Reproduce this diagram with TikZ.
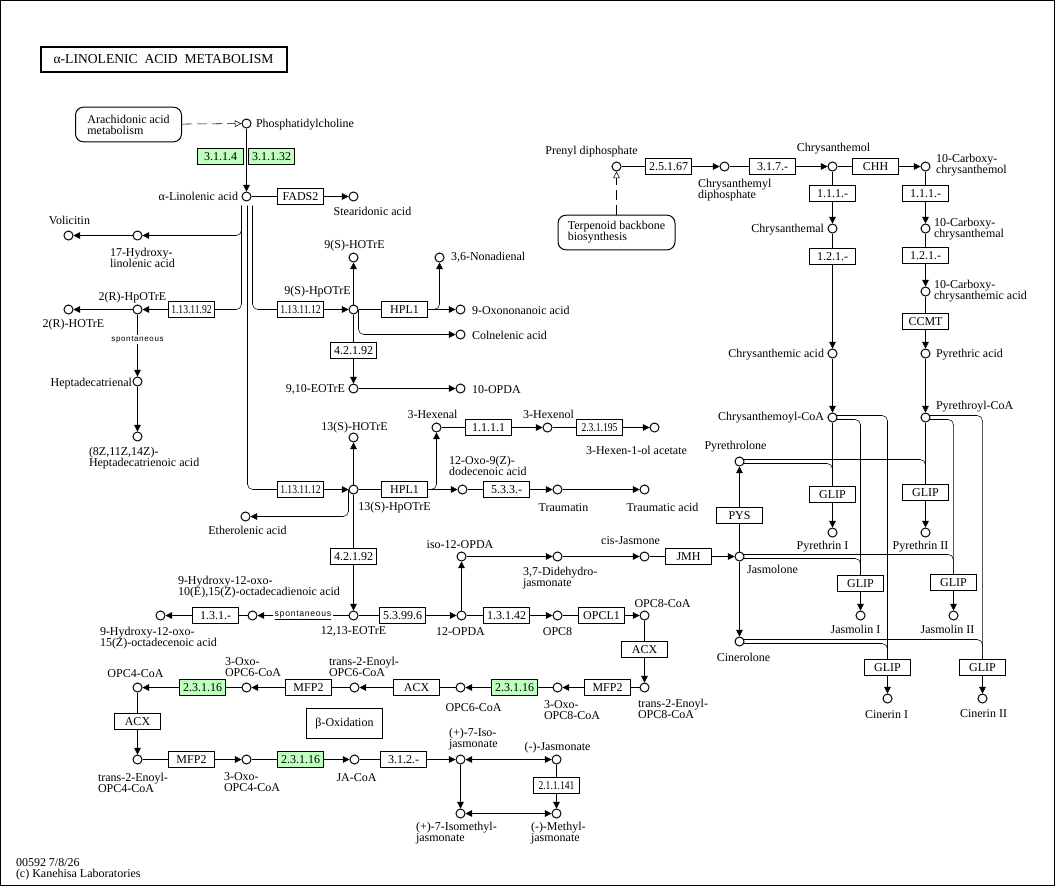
\documentclass[tikz,border=0pt]{standalone}
\usepackage{fontspec}
\setmainfont{Liberation Serif}
\newfontfamily\spfont[LetterSpace=8]{Liberation Sans}
\usepackage{graphicx}
\usetikzlibrary{arrows.meta,calc,backgrounds}
\definecolor{kgreen}{RGB}{191,255,191}
\newcommand\ecsq[1]{\scalebox{0.8}[1]{#1}}
\begin{document}
\begin{tikzpicture}[x=0.75pt,y=-0.75pt, line width=0.75pt,
  every node/.style={font=\fontsize{9}{8.2}\selectfont, inner sep=0pt},
  cpd/.style={circle, draw, fill=white, minimum size=6.75pt},
  ec/.style={draw, fill=white, minimum width=34.5pt, minimum height=12pt},
  gec/.style={ec, fill=kgreen},
  lbl/.style={align=left},
  arr/.style={-{Triangle[length=5pt,width=5pt]}},
  darr/.style={{Triangle[length=5pt,width=5pt]}-{Triangle[length=5pt,width=5pt]}},
  mapbox/.style={draw, rounded corners=6pt, minimum width=79.5pt, minimum height=26pt, align=left},
  oarr/.style={dash pattern=on 7.5pt off 3.75pt, -{Triangle[open,length=5pt,width=5pt]}},
  rc/.style={rounded corners=4pt},
  spont/.style={font=\spfont\fontsize{6}{6}\selectfont, fill=white, inner sep=1pt}]
\useasboundingbox (-0.5,-0.5) rectangle (1054.5,885.5);

% title and maps
\node[draw, line width=1.5pt, minimum width=184.5pt, minimum height=18.75pt, font=\fontsize{10.2}{12}\selectfont] (title) at (163,58.5) {α-LINOLENIC~~ACID~~METABOLISM};
\node[mapbox] (aam) at (128,124) {Arachidonic acid\\metabolism};
\node[mapbox, minimum width=87.75pt] (tbb) at (616,232) {Terpenoid backbone\\biosynthesis};

% top left
\node[cpd] (pc) at (246,123) {};
\node[anchor=west] (tpc) at (255,124) {Phosphatidylcholine};
\node[gec] (e3114) at (220,156) {3.1.1.4};
\node[gec] (e31132) at (271,156) {3.1.1.32};
\node[cpd] (aln) at (246,196) {};
\node[anchor=east] (taln) at (238,196) {α-Linolenic acid};
\node[ec] (fads2) at (300,196) {FADS2};
\node[cpd] (sda) at (353,196) {};
\node (tsda) at (372,211) {Stearidonic acid};
\node[cpd] (hla) at (137,235) {};
\node[lbl, anchor=west] (thla) at (109,257) {17-Hydroxy-\\linolenic acid};
\node[cpd] (vol) at (68,235) {};
\node (tvol) at (69,220) {Volicitin};

\node[ec] (e92) at (191,309) {\ecsq{1.13.11.92}};
\node[cpd] (hp2) at (137,309) {};
\node (thp2) at (132,297) {2(R)-HpOTrE};
\node[cpd] (ho2) at (68,309) {};
\node (tho2) at (73,324) {2(R)-HOTrE};
\node[cpd] (hpt) at (137,381) {};
\node[anchor=east] (thpt) at (132,383) {Heptadecatrienal};
\node[cpd] (hta) at (137,436) {};
\node[lbl, anchor=west] (thta) at (88,457.5) {(8Z,11Z,14Z)-\\Heptadecatrienoic acid};

\node[ec] (e12a) at (300,309) {\ecsq{1.13.11.12}};
\node[cpd] (hp9) at (353,309) {};
\node (thp9) at (317,291) {9(S)-HpOTrE};
\node[cpd] (ho9) at (353,257) {};
\node (tho9) at (354,245) {9(S)-HOTrE};
\node[ec] (hpl1a) at (404,309) {HPL1};
\node[cpd] (oxo) at (460,309) {};
\node[anchor=west] (toxo) at (471,310) {9-Oxononanoic acid};
\node[cpd] (non) at (439,257) {};
\node[anchor=west] (tnon) at (450,257) {3,6-Nonadienal};
\node[cpd] (col) at (460,334) {};
\node[anchor=west] (tcol) at (471,335) {Colnelenic acid};
\node[ec] (e4292a) at (353,350) {4.2.1.92};
\node[cpd] (eo9) at (353,388) {};
\node[anchor=east] (teo9) at (345,389) {9,10-EOTrE};
\node[cpd] (op10) at (460,388) {};
\node[anchor=west] (top10) at (471,389) {10-OPDA};

\node[ec] (e12b) at (300,489) {\ecsq{1.13.11.12}};
\node[cpd] (hp13) at (353,489) {};
\node (thp13) at (394,507) {13(S)-HpOTrE};
\node[cpd] (ho13) at (353,437) {};
\node (tho13) at (354,427) {13(S)-HOTrE};
\node[ec] (hpl1b) at (404,489) {HPL1};
\node[cpd] (odd) at (462,489) {};
\node[lbl, anchor=west] (todd) at (448,465) {12-Oxo-9(Z)-\\dodecenoic acid};
\node[cpd] (hex) at (436,427) {};
\node (thex) at (432,414) {3-Hexenal};
\node[ec] (e1111) at (488,427) {1.1.1.1};
\node[cpd] (hxl) at (547,427) {};
\node (thxl) at (548,414) {3-Hexenol};
\node[ec] (e231195) at (599,427) {\ecsq{2.3.1.195}};
\node[cpd] (hxa) at (654,427) {};
\node (thxa) at (636,450) {3-Hexen-1-ol acetate};
\node[ec] (e533) at (506,489) {5.3.3.-};
\node[cpd] (trn) at (557,489) {};
\node (ttrn) at (563,507) {Traumatin};
\node[cpd] (tra) at (644,489) {};
\node (ttra) at (662,507) {Traumatic acid};
\node[cpd] (eth) at (245,516) {};
\node (teth) at (247,530) {Etherolenic acid};

\node[ec] (e4292b) at (353,556) {4.2.1.92};
\node[cpd] (eo13) at (353,615) {};
\node (teo13) at (353,631) {12,13-EOTrE};
\node[cpd] (hod) at (252,615) {};
\node[lbl, anchor=west] (thod) at (177,587) {9-Hydroxy-12-oxo-\\10(E),15(Z)-octadecadienoic acid};
\node[ec] (e131) at (215,615) {1.3.1.-};
\node[cpd] (hoe) at (160,615) {};
\node[lbl, anchor=west] (thoe) at (99,637.5) {9-Hydroxy-12-oxo-\\15(Z)-octadecenoic acid};
\node[ec] (e53996) at (402,615) {5.3.99.6};
\node[cpd] (opda) at (461,615) {};
\node (topda) at (460,631) {12-OPDA};
\node[cpd] (iso) at (461,556) {};
\node (tiso) at (459.5,544) {iso-12-OPDA};
\node[cpd] (ddj) at (557,556) {};
\node[lbl, anchor=west] (tddj) at (522,577.5) {3,7-Didehydro-\\jasmonate};
\node[cpd] (cjm) at (644,556) {};
\node (tcjm) at (630,540) {cis-Jasmone};
\node[ec] (jmh) at (688,556) {JMH};
\node[cpd] (jol) at (739,556) {};
\node (tjol) at (772,569) {Jasmolone};
\node[ec] (e13142) at (506,615) {1.3.1.42};
\node[cpd] (opc8) at (557,615) {};
\node (topc8) at (557,631) {OPC8};
\node[ec] (opcl1) at (601,615) {OPCL1};
\node[cpd] (o8c) at (644,615) {};
\node (to8c) at (662,603) {OPC8-CoA};
\node[ec] (acx8) at (644,649) {ACX};
\node[cpd] (t8) at (644,687) {};
\node[lbl, anchor=west] (tt8) at (637,708.5) {trans-2-Enoyl-\\OPC8-CoA};
\node[ec] (mfp2a) at (607,687) {MFP2};
\node[cpd] (o8) at (557,687) {};
\node[lbl, anchor=west] (to8) at (543,709.5) {3-Oxo-\\OPC8-CoA};
\node[gec] (g8) at (514,687) {2.3.1.16};
\node[cpd] (opc6) at (460,687) {};
\node (topc6) at (473,707) {OPC6-CoA};
\node[ec] (acx6) at (416,687) {ACX};
\node[cpd] (t6) at (354,687) {};
\node[lbl, anchor=west] (tt6) at (328,666.5) {trans-2-Enoyl-\\OPC6-CoA};
\node[ec] (mfp2b) at (308,687) {MFP2};
\node[cpd] (o6) at (246,687) {};
\node[lbl, anchor=west] (to6) at (224,666.5) {3-Oxo-\\OPC6-CoA};
\node[gec] (g6) at (202,687) {2.3.1.16};
\node[cpd] (opc4) at (137,687) {};
\node (topc4) at (135,673) {OPC4-CoA};
\node[ec] (acx4) at (137,721) {ACX};
\node[cpd] (t4) at (137,759) {};
\node[lbl, anchor=west] (tt4) at (97,782) {trans-2-Enoyl-\\OPC4-CoA};
\node[ec] (mfp2c) at (191,759) {MFP2};
\node[cpd] (o4) at (246,759) {};
\node[lbl, anchor=west] (to4) at (223,782) {3-Oxo-\\OPC4-CoA};
\node[gec] (g4) at (300,759) {2.3.1.16};
\node[cpd] (jacoa) at (354,759) {};
\node (tjacoa) at (356,777) {JA-CoA};
\node[ec] (e312) at (403,759) {3.1.2.-};
\node[cpd] (ijas) at (460,759) {};
\node[lbl, anchor=west] (tijas) at (448,738.5) {(+)-7-Iso-\\jasmonate};
\node[cpd] (jas) at (556,759) {};
\node (tjas) at (557,747) {(-)-Jasmonate};
\node[ec] (e211141) at (556,785) {\ecsq{2.1.1.141}};
\node[cpd] (imj) at (460,813) {};
\node[lbl, anchor=west] (timj) at (415,833) {(+)-7-Isomethyl-\\jasmonate};
\node[cpd] (mj) at (556,813) {};
\node[lbl, anchor=west] (tmj) at (530,833) {(-)-Methyl-\\jasmonate};
\node[draw, minimum width=57pt, minimum height=22.5pt] (box) at (344,723) {β-Oxidation};

% right side
\node[cpd] (prn) at (616,166) {};
\node (tprn) at (591,151) {Prenyl diphosphate};
\node[ec] (e25167) at (668,166) {2.5.1.67};
\node[cpd] (cdp) at (724,166) {};
\node[lbl, anchor=west] (tcdp) at (697,190) {Chrysanthemyl\\diphosphate};
\node[ec] (e317) at (772,166) {3.1.7.-};
\node[cpd] (chol) at (832,166) {};
\node (tchol) at (833,148) {Chrysanthemol};
\node[ec] (chh) at (875,166) {CHH};
\node[cpd] (cch) at (925,166) {};
\node[lbl, anchor=west] (tcch) at (935,165) {10-Carboxy-\\chrysanthemol};
\node[ec] (e111a) at (832,193) {1.1.1.-};
\node[cpd] (chal) at (832,228) {};
\node[anchor=east] (tchal) at (824,229) {Chrysanthemal};
\node[ec] (e121a) at (832,256) {1.2.1.-};
\node[cpd] (cac) at (832,353) {};
\node[anchor=east] (tcac) at (824,354) {Chrysanthemic acid};
\node[ec] (e111b) at (925,193) {1.1.1.-};
\node[cpd] (ccal) at (925,228) {};
\node[lbl, anchor=west] (tccal) at (933,228.5) {10-Carboxy-\\chrysanthemal};
\node[ec] (e121b) at (925,255) {1.2.1.-};
\node[cpd] (ccac) at (925,291) {};
\node[lbl, anchor=west] (tccac) at (933,290.5) {10-Carboxy-\\chrysanthemic acid};
\node[ec] (ccmt) at (925,321) {CCMT};
\node[cpd] (pyac) at (925,353) {};
\node[anchor=west] (tpyac) at (935,354) {Pyrethric acid};
\node[cpd] (ccoa) at (832,417) {};
\node[anchor=east] (tccoa) at (824,417) {Chrysanthemoyl-CoA};
\node[cpd] (pcoa) at (925,417) {};
\node[anchor=west] (tpcoa) at (935,406) {Pyrethroyl-CoA};
\node[cpd] (pyl) at (739,461) {};
\node (tpyl) at (735,446) {Pyrethrolone};
\node[ec] (pys) at (739,515) {PYS};
\node[cpd] (cin) at (739,641) {};
\node (tcin) at (743,657) {Cinerolone};
\node[ec] (glip1) at (832,494) {GLIP};
\node[cpd] (py1) at (832,532) {};
\node (tpy1) at (822,546) {Pyrethrin I};
\node[ec] (glip2) at (925,492) {GLIP};
\node[cpd] (py2) at (925,532) {};
\node (tpy2) at (920,546) {Pyrethrin II};
\node[ec] (glip3) at (860,583) {GLIP};
\node[cpd] (ja1) at (860,615) {};
\node (tja1) at (855,629) {Jasmolin I};
\node[ec] (glip4) at (953,582) {GLIP};
\node[cpd] (ja2) at (953,615) {};
\node (tja2) at (947,629) {Jasmolin II};
\node[ec] (glip5) at (887,667) {GLIP};
\node[cpd] (ci1) at (887,698) {};
\node (tci1) at (886,714) {Cinerin I};
\node[ec] (glip6) at (982,667) {GLIP};
\node[cpd] (ci2) at (982,698) {};
\node (tci2) at (983,713) {Cinerin II};

\node[lbl, anchor=west] (ft) at (15,868.5) {00592 7/8/26\\(c) Kanehisa Laboratories};

\begin{scope}[on background layer]
\draw (0,0) rectangle (1054,885);
\draw[oarr] (aam) -- (pc);
\draw[arr] (pc) -- (aln);
\draw (aln) -- (fads2); \draw[arr] (fads2) -- (sda);
\draw[arr, rc] ($(aln)+(-5,9)$) |- (hla);
\draw[arr] (hla) -- (vol);
\draw[rc] ($(aln)+(-5,9)$) |- (e92);
\draw[arr] (e92) -- (hp2);
\draw[arr] (hp2) -- (ho2);
\draw[arr] (hp2) -- node[spont, pos=0.4]{spontaneous} (hpt);
\draw[arr] (hpt) -- (hta);
\draw[rc] ($(aln)+(6,9)$) |- (e12a);
\draw[arr] (e12a) -- (hp9);
\draw[arr] (hp9) -- (ho9);
\draw (hp9) -- (hpl1a);
\draw[arr] (hpl1a) -- (oxo);
\draw[arr, rc] (hpl1a.east) -| (non);
\draw[arr, rc] ($(hp9)+(5,0)$) |- (col);
\draw (hp9) -- (e4292a); \draw[arr] (e4292a) -- (eo9);
\draw[arr] (eo9) -- (op10);
\draw[rc] ($(aln)+(1,9)$) |- (e12b);
\draw[arr] (e12b) -- (hp13);
\draw[arr] (hp13) -- (ho13);
\draw (hp13) -- (hpl1b);
\draw[arr] (hpl1b) -- (odd);
\draw[arr, rc] (hpl1b.east) -| (hex);
\draw (hex) -- (e1111); \draw[arr] (e1111) -- (hxl);
\draw (hxl) -- (e231195); \draw[arr] (e231195) -- (hxa);
\draw (odd) -- (e533); \draw[arr] (e533) -- (trn);
\draw[arr] (trn) -- (tra);
\draw[arr, rc] ($(hp13)+(-5,0)$) |- (eth);
\draw (hp13) -- (e4292b); \draw[arr] (e4292b) -- (eo13);
\draw[arr] (eo13) -- node[spont, font=\spfont\fontsize{6.5}{6.5}\selectfont]{\underline{spontaneous}} (hod);
\draw (hod) -- (e131); \draw[arr] (e131) -- (hoe);
\draw (eo13) -- (e53996); \draw[arr] (e53996) -- (opda);
\draw[arr] (opda) -- (iso);
\draw[arr] (iso) -- (ddj); \draw[arr] (ddj) -- (cjm);
\draw (cjm) -- (jmh); \draw[arr] (jmh) -- (jol);
\draw (opda) -- (e13142); \draw[arr] (e13142) -- (opc8);
\draw (opc8) -- (opcl1); \draw[arr] (opcl1) -- (o8c);
\draw (o8c) -- (acx8); \draw[arr] (acx8) -- (t8);
\draw (t8) -- (mfp2a); \draw[arr] (mfp2a) -- (o8);
\draw (o8) -- (g8); \draw[arr] (g8) -- (opc6);
\draw (opc6) -- (acx6); \draw[arr] (acx6) -- (t6);
\draw (t6) -- (mfp2b); \draw[arr] (mfp2b) -- (o6);
\draw (o6) -- (g6); \draw[arr] (g6) -- (opc4);
\draw (opc4) -- (acx4); \draw[arr] (acx4) -- (t4);
\draw (t4) -- (mfp2c); \draw[arr] (mfp2c) -- (o4);
\draw (o4) -- (g4); \draw[arr] (g4) -- (jacoa);
\draw (jacoa) -- (e312); \draw[arr] (e312) -- (ijas);
\draw[darr] (ijas) -- (jas);
\draw[arr] (ijas) -- (imj);
\draw (jas) -- (e211141); \draw[arr] (e211141) -- (mj);
\draw[darr] (imj) -- (mj);
% right
\draw[oarr] (tbb) -- (prn);
\draw (prn) -- (e25167); \draw[arr] (e25167) -- (cdp);
\draw (cdp) -- (e317); \draw[arr] (e317) -- (chol);
\draw (chol) -- (chh); \draw[arr] (chh) -- (cch);
\draw (chol) -- (e111a); \draw[arr] (e111a) -- (chal);
\draw (chal) -- (e121a); \draw[arr] (e121a) -- (cac);
\draw (cch) -- (e111b); \draw[arr] (e111b) -- (ccal);
\draw (ccal) -- (e121b); \draw[arr] (e121b) -- (ccac);
\draw (ccac) -- (ccmt); \draw[arr] (ccmt) -- (pyac);
\draw[arr] (cac) -- (ccoa);
\draw[arr] (pyac) -- (pcoa);
\draw (jol) -- (pys); \draw[arr] (pys) -- (pyl);
\draw[arr] (jol) -- (cin);
\draw (ccoa) -- (glip1); \draw[arr] (glip1) -- (py1);
\draw (pcoa) -- (glip2); \draw[arr] (glip2) -- (py2);
\draw[arr] (glip3) -- (ja1); \draw[arr] (glip4) -- (ja2);
\draw[arr] (glip5) -- (ci1); \draw[arr] (glip6) -- (ci2);
\draw[rc] ($(pyl)+(0,2)$) -| (glip1);
\draw[rc] ($(pyl)+(0,-2)$) -| (glip2);
\draw[rc] ($(jol)+(0,2)$) -| (glip3);
\draw[rc] ($(jol)+(0,-2)$) -| (glip4);
\draw[rc] ($(cin)+(0,2)$) -| (glip5);
\draw[rc] ($(cin)+(0,-2)$) -| (glip6);
\draw[rc] ($(ccoa)+(0,-2)$) -| (glip5);
\draw[rc] ($(ccoa)+(0,2)$) -| (glip3);
\draw[rc] ($(pcoa)+(0,2)$) -| (glip4);
\draw[rc] ($(pcoa)+(0,-2)$) -| (glip6);
\end{scope}
\end{tikzpicture}
\end{document}
